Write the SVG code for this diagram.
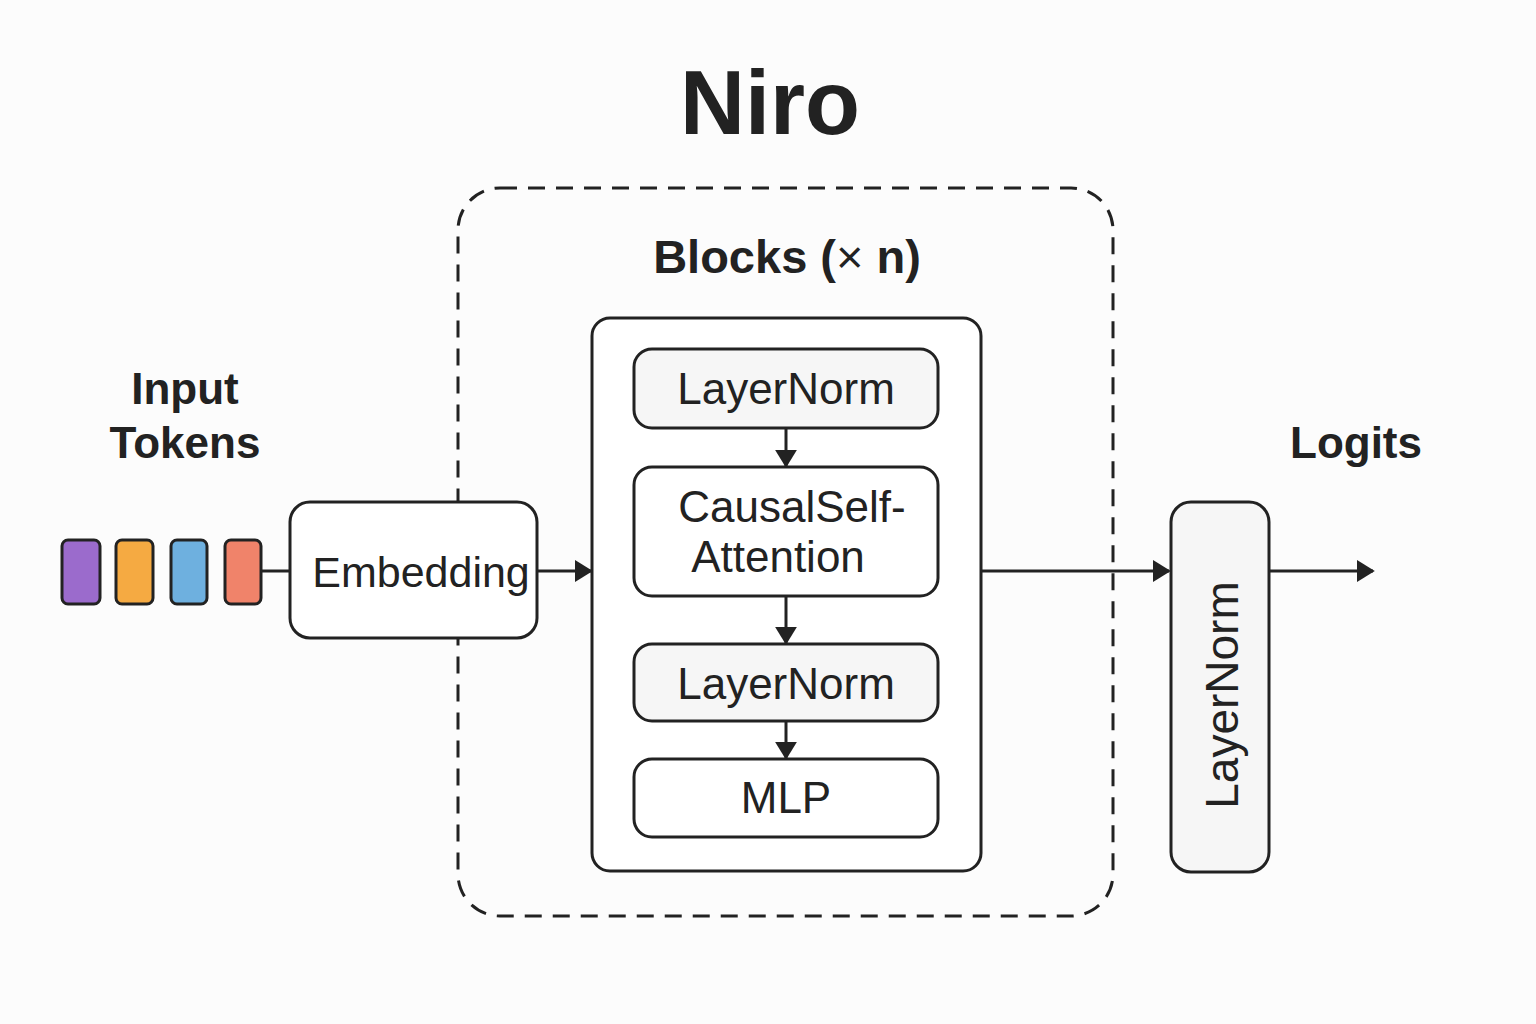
<svg xmlns="http://www.w3.org/2000/svg" width="1536" height="1024" viewBox="0 0 1536 1024">
<defs>
<style>
.t{font-family:"Liberation Sans",Arial,sans-serif;fill:#222;}
.h{font-weight:bold;}
.box{stroke:#222;stroke-width:3;}
.ln{stroke:#222;stroke-width:3;fill:none;}
</style>
<marker id="ah" viewBox="0 0 10 10" refX="9" refY="5" markerWidth="18" markerHeight="22" markerUnits="userSpaceOnUse" orient="auto" preserveAspectRatio="none">
<path d="M0,0 L10,5 L0,10 Z" fill="#222"/>
</marker>
</defs>
<rect width="1536" height="1024" fill="#fcfcfc"/>
<text class="t h" x="770" y="134" font-size="90" text-anchor="middle">Niro</text>

<g id="blocks-frame">
<rect x="458" y="188" width="655" height="728" rx="42" fill="none" stroke="#222" stroke-width="3" stroke-dasharray="17,11"/>
<text class="t h" x="787" y="273" font-size="47" text-anchor="middle">Blocks (<tspan font-weight="normal">×</tspan> n)</text>
</g>

<g id="input-label">
<text class="t h" x="185" y="404" font-size="44" text-anchor="middle">Input</text>
<text class="t h" x="185" y="458" font-size="44" text-anchor="middle">Tokens</text>
</g>

<g id="tokens">
<rect class="box" x="62" y="540" width="38" height="64" rx="6" fill="#9b6bcc"/>
<rect class="box" x="116" y="540" width="37" height="64" rx="6" fill="#f5aa42"/>
<rect class="box" x="171" y="540" width="36" height="64" rx="6" fill="#6eb0df"/>
<rect class="box" x="225" y="540" width="36" height="64" rx="6" fill="#f0836a"/>
</g>

<g id="embedding">
<rect class="box" x="290" y="502" width="247" height="136" rx="20" fill="#fff"/>
<text class="t" x="421" y="587" font-size="43" text-anchor="middle">Embedding</text>
</g>

<g id="block">
<rect class="box" x="592" y="318" width="389" height="553" rx="18" fill="#fff"/>
</g>

<g id="layernorm1">
<rect class="box" x="634" y="349" width="304" height="79" rx="18" fill="#f6f6f6"/>
<text class="t" x="786" y="404" font-size="44" text-anchor="middle">LayerNorm</text>
</g>

<g id="attention">
<rect class="box" x="634" y="467" width="304" height="129" rx="18" fill="#fff"/>
<text class="t" x="792" y="522" font-size="44" text-anchor="middle">CausalSelf-</text>
<text class="t" x="778" y="572" font-size="44" text-anchor="middle">Attention</text>
</g>

<g id="layernorm2">
<rect class="box" x="634" y="644" width="304" height="77" rx="18" fill="#f6f6f6"/>
<text class="t" x="786" y="699" font-size="44" text-anchor="middle">LayerNorm</text>
</g>

<g id="mlp">
<rect class="box" x="634" y="759" width="304" height="78" rx="18" fill="#fff"/>
<text class="t" x="786" y="813" font-size="44" text-anchor="middle">MLP</text>
</g>

<g id="final-layernorm">
<rect class="box" x="1171" y="502" width="98" height="370" rx="20" fill="#f6f6f6"/>
<text class="t" x="0" y="0" font-size="46" text-anchor="middle" transform="translate(1238,695) rotate(-90)">LayerNorm</text>
</g>

<g id="logits-label">
<text class="t h" x="1356" y="458" font-size="44" text-anchor="middle">Logits</text>
</g>

<g id="connectors">
<line class="ln" x1="261" y1="571" x2="290" y2="571"/>
<line class="ln" x1="537" y1="571" x2="591" y2="571" marker-end="url(#ah)"/>
<line class="ln" x1="786" y1="428" x2="786" y2="466" marker-end="url(#ah)"/>
<line class="ln" x1="786" y1="596" x2="786" y2="643" marker-end="url(#ah)"/>
<line class="ln" x1="786" y1="721" x2="786" y2="758" marker-end="url(#ah)"/>
<line class="ln" x1="981" y1="571" x2="1169" y2="571" marker-end="url(#ah)"/>
<line class="ln" x1="1269" y1="571" x2="1373" y2="571" marker-end="url(#ah)"/>
</g>
</svg>
